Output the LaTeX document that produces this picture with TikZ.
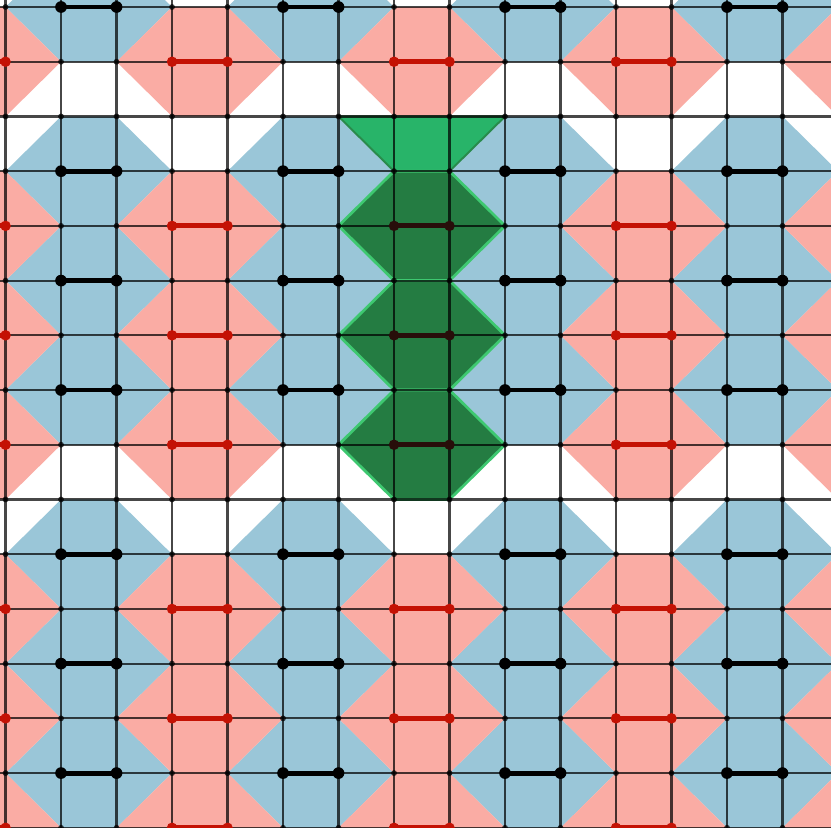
\documentclass[tikz,border=0pt]{standalone}
\usepackage{xcolor}
\definecolor{tlblue}{RGB}{154,198,216}
\definecolor{tlpink}{RGB}{250,172,164}
\definecolor{tlred}{RGB}{196,18,4}
\definecolor{tlgreen}{RGB}{36,124,66}
\definecolor{tlgreenlt}{RGB}{40,180,105}
\definecolor{tledge}{RGB}{62,200,112}
\definecolor{tldark}{RGB}{40,14,10}
\usepackage{tikz}
\usetikzlibrary{calc}
\newcommand{\tlhex}[3]{\fill[#3] (#1-1,-#2) -- (#1,-#2+1) -- (#1+1,-#2+1) -- (#1+2,-#2) -- (#1+1,-#2-1) -- (#1,-#2-1) -- cycle;}

\begin{document}
\begin{tikzpicture}[x=1cm,y=0.986cm,
  gridline/.style={black,opacity=0.72,line width=1.1pt},
  vdot/.style={black,opacity=0.75},
  dimer/.style={line width=2.5pt},
  greenhex/.style={fill=tlgreen,draw=tledge,line width=1.4pt,line join=miter}]
  \useasboundingbox (-0.1,0.128) rectangle (14.874,-15);
  \clip (-0.1,0.128) rectangle (14.874,-15);
  \fill[white] (-0.1,0.128) rectangle (14.874,-15);
  \foreach \a in {1,5,9,13} \foreach \j in {0,3,5,7,10,12,14} {\tlhex{\a}{\j}{tlblue}}
  \foreach \a in {-1,3,11,15} \foreach \j in {1,4,6,8,11,13,15} {\tlhex{\a}{\j}{tlpink}}
  \foreach \j in {1,11,13,15} {\tlhex{7}{\j}{tlpink}}
  % green column
  \fill[tlgreenlt,draw=tlgreen!80!tledge,line width=1pt] (6,-2) -- (9,-2) -- (8,-3) -- (7,-3) -- cycle;
  \foreach \j in {4,6,8} {\tlhex{7}{\j}{greenhex}}
  \foreach \i in {0,...,15} \draw[gridline] (\i,1) -- (\i,-16);
  \foreach \j in {0,...,15} \draw[gridline] (-1,-\j) -- (16,-\j);
  \foreach \i in {0,...,15} \foreach \j in {0,...,15} \fill[vdot] (\i,-\j) circle (1.5pt);
  \foreach \a in {1,5,9,13} \foreach \j in {0,3,5,7,10,12,14} {
    \draw[dimer,black] (\a,-\j) -- (\a+1,-\j);
    \fill[black] (\a,-\j) circle (3pt) (\a+1,-\j) circle (3pt);}
  \foreach \a/\j in {-1/1,-1/4,-1/6,-1/8,-1/11,-1/13,-1/15,3/1,3/4,3/6,3/8,3/11,3/13,3/15,7/1,7/11,7/13,7/15,11/1,11/4,11/6,11/8,11/11,11/13,11/15} {
    \draw[dimer,tlred] (\a,-\j) -- (\a+1,-\j);
    \fill[tlred] (\a,-\j) circle (2.7pt) (\a+1,-\j) circle (2.7pt);}
  \foreach \j in {4,6,8} {
    \draw[dimer,tldark] (7,-\j) -- (8,-\j);
    \fill[tldark] (7,-\j) circle (2.7pt) (8,-\j) circle (2.7pt);}
\end{tikzpicture}
\end{document}
